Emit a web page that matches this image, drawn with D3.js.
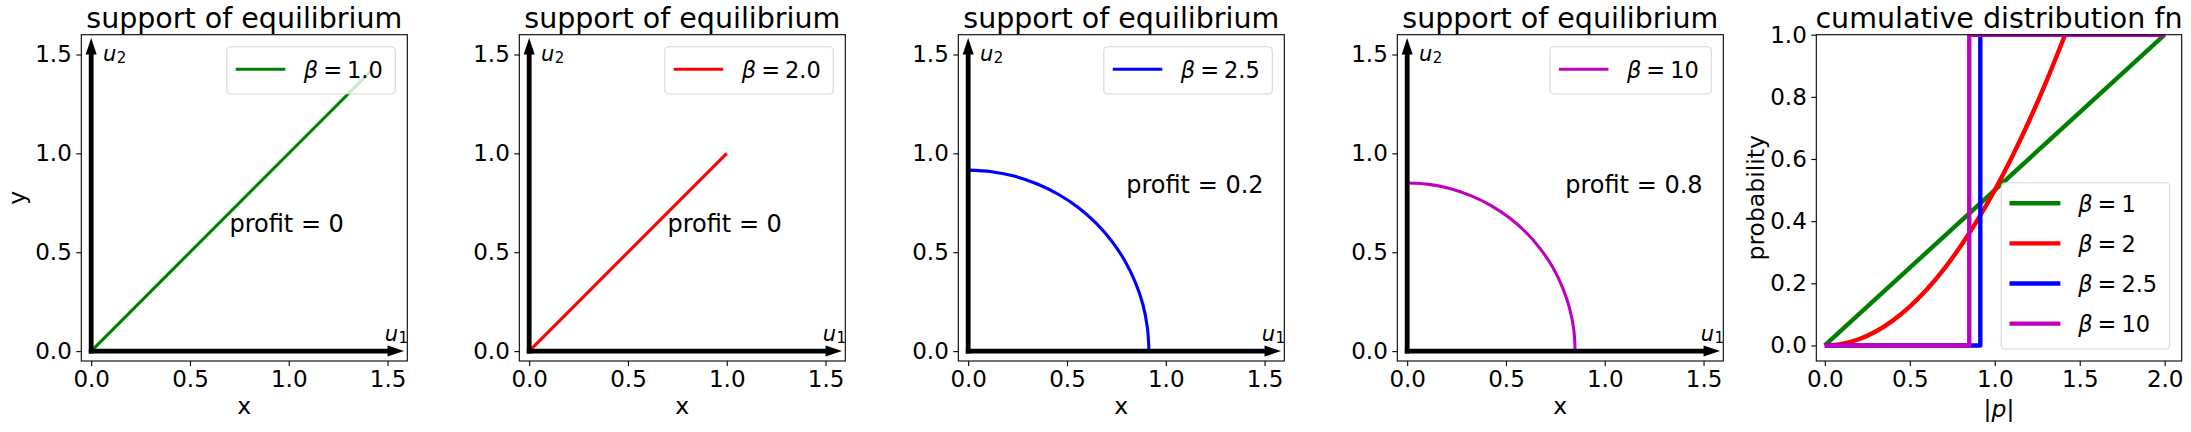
<!DOCTYPE html>
<html><head><meta charset="utf-8">
<script src="https://cdn.jsdelivr.net/npm/d3@7"></script>
<style>
body{margin:0;background:#fff;}
text{font-family:"DejaVu Sans",sans-serif;fill:#000;}
</style>
</head><body>
<svg id="chart" width="2191" height="432"></svg>
<script>
// ---------------- data ----------------
const supportTitle = "support of equilibrium";
const cdfTitle = "cumulative distribution fn";
const supportBetaLabels = ["1.0", "2.0", "2.5", "10"];
const cdfBetaLabels = ["1", "2", "2.5", "10"];
const seriesColors = ["#008000", "#ff0000", "#0000ff", "#bf00bf"];
const profitLabels = ["profit = 0", "profit = 0", "profit = 0.2", "profit = 0.8"];
const profitAnchors = [[0.7, 0.6], [0.7, 0.6], [0.8, 0.8], [0.8, 0.8]];

// support curves (u1, u2)
const supportBeta1 = [[0, 0], [1.414, 1.414]];
const supportBeta2 = [[0, 0], [1, 1]];
const supportBeta25 = [[0.915,0],[0.907,0.119],[0.884,0.237],[0.845,0.350],[0.792,0.458],[0.726,0.557],[0.647,0.647],[0.557,0.726],[0.458,0.792],[0.350,0.845],[0.237,0.884],[0.119,0.907],[0,0.915]];
const supportBeta10 = [[0.85,0],[0.843,0.111],[0.821,0.220],[0.785,0.325],[0.736,0.425],[0.674,0.517],[0.601,0.601],[0.517,0.674],[0.425,0.736],[0.325,0.785],[0.220,0.821],[0.111,0.843],[0,0.85]];
const supportSeries = [supportBeta1, supportBeta2, supportBeta25, supportBeta10];

// CDF curves (|p|, probability)
const cdfBeta1 = [[0, 0], [2, 1]];
const cdfBeta2 = [[0,0],[0.1,0.005],[0.2,0.02],[0.3,0.045],[0.4,0.08],[0.5,0.125],[0.6,0.18],[0.7,0.245],[0.8,0.32],[0.9,0.405],[1.0,0.5],[1.1,0.605],[1.2,0.72],[1.3,0.845],[1.414,1.0]];
const cdfBeta25 = [[0, 0], [0.915, 0], [0.915, 1], [2, 1]];
const cdfBeta10 = [[0, 0], [0.85, 0], [0.85, 1], [2, 1]];
const cdfSeries = [cdfBeta1, cdfBeta2, cdfBeta25, cdfBeta10];

const supportTicks = [0, 0.5, 1.0, 1.5];
const cdfXTicks = [0, 0.5, 1.0, 1.5, 2.0];
const cdfYTicks = [0, 0.2, 0.4, 0.6, 0.8, 1.0];
const supportDomain = [-0.05, 1.6];
const cdfXDomain = [-0.05, 2.1];
const cdfYDomain = [-0.05, 1.0];
const arrowLength = 1.5;

// ---------------- layout ----------------
const svg = d3.select("#chart");
const axTop = 34.7, axH = 326.3;
const panelLefts = [81.3, 519.3, 958.3, 1397.3, 1816.3];
const panelWidths = [326, 326, 326, 326, 365.4];
const tickFont = 23, legendFont = 22.5, labelFont = 23.5;
let clipId = 0;

function frame(i, xDom, yDom, xTicks, yTicks) {
  const L = panelLefts[i], W = panelWidths[i];
  const x = d3.scaleLinear().domain(xDom).range([L, L + W]);
  const y = d3.scaleLinear().domain(yDom).range([axTop + axH, axTop]);
  const g = svg.append("g");
  const id = "clip" + (clipId++);
  svg.append("defs").append("clipPath").attr("id", id)
    .append("rect").attr("x", L).attr("y", axTop).attr("width", W).attr("height", axH);
  const fmt = d3.format(".1f");
  const xa = g.append("g").attr("transform", `translate(0,${axTop + axH})`)
    .call(d3.axisBottom(x).tickValues(xTicks).tickFormat(fmt).tickSize(5).tickSizeOuter(0).tickPadding(4.5));
  const ya = g.append("g").attr("transform", `translate(${L},0)`)
    .call(d3.axisLeft(y).tickValues(yTicks).tickFormat(fmt).tickSize(5).tickSizeOuter(0).tickPadding(4.5));
  [xa, ya].forEach(a => {
    a.select(".domain").remove();
    a.selectAll("line").attr("stroke", "#000").attr("stroke-width", 1.1);
    a.selectAll("text").attr("font-size", tickFont).attr("font-family", "DejaVu Sans").attr("fill", "#000");
  });
  const plot = g.append("g").attr("clip-path", `url(#${id})`);
  return {x, y, g, plot, L, W};
}

function drawFrameRect(f) {
  f.g.append("rect").attr("x", f.L).attr("y", axTop).attr("width", f.W).attr("height", axH)
    .attr("fill", "none").attr("stroke", "#000").attr("stroke-width", 1.1);
}

function mathBeta(t, label) {
  t.append("tspan").attr("font-style", "italic").text("β");
  t.append("tspan").attr("dx", 5).text("=");
  t.append("tspan").attr("dx", 5).text(label);
}

function legend(f, labels, colors, lw) {
  const right = f.L + f.W - 12;
  const n = labels.length;
  const h = n === 1 ? 47.3 : 166.3;
  const top = n === 1 ? axTop + 12 : axTop + axH - 12 - h;
  const first = n === 1 ? 22.6 : 20.6;
  const lg = f.g.append("g");
  const box = lg.append("rect");
  const texts = labels.map((lab, k) => {
    const t = lg.append("text").attr("font-size", legendFont).attr("text-anchor", "end")
      .attr("x", right - 11.5).attr("y", top + first + 40.1 * k + 8.3);
    mathBeta(t, lab);
    return t;
  });
  const minLeft = d3.min(texts, t => t.node().getBBox().x);
  const boxLeft = minLeft - 77;
  texts.forEach(t => t.attr("text-anchor", "start").attr("x", boxLeft + 77));
  box.attr("x", boxLeft).attr("y", top).attr("width", right - boxLeft).attr("height", h)
    .attr("rx", 4).attr("fill", "#fff").attr("fill-opacity", 0.8)
    .attr("stroke", "#cccccc").attr("stroke-opacity", 0.8).attr("stroke-width", 1.1);
  labels.forEach((lab, k) => {
    const yy = top + first + 40.1 * k;
    lg.append("line").attr("x1", boxLeft + 10.5).attr("x2", boxLeft + 57).attr("y1", yy).attr("y2", yy)
      .attr("stroke", colors[k]).attr("stroke-width", lw).attr("stroke-linecap", "square");
  });
}

function arrows(f) {
  const x = f.x, y = f.y;
  const sh = 2.4, hw = 5.5, hl = 16.5;
  const x0 = x(0), y0 = y(0), xe = x(arrowLength), ye = y(arrowLength);
  f.g.append("path").attr("fill", "#000").attr("d",
    `M${x0 - sh},${y0 - sh}L${xe},${y0 - sh}L${xe},${y0 - hw}L${xe + hl},${y0}L${xe},${y0 + hw}L${xe},${y0 + sh}L${x0 - sh},${y0 + sh}Z`);
  f.g.append("path").attr("fill", "#000").attr("d",
    `M${x0 - sh},${y0 + sh}L${x0 - sh},${ye}L${x0 - hw},${ye}L${x0},${ye - hl}L${x0 + hw},${ye}L${x0 + sh},${ye}L${x0 + sh},${y0 + sh}Z`);
  const u2 = f.g.append("text").attr("x", x(0.06)).attr("y", y(1.465)).attr("font-size", 21);
  u2.append("tspan").attr("font-style", "italic").text("u");
  u2.append("tspan").attr("font-size", 15).attr("dy", 2).attr("dx", 0.5).text("2");
  const u1 = f.g.append("text").attr("x", x(1.486)).attr("y", y(0.05)).attr("font-size", 21);
  u1.append("tspan").attr("font-style", "italic").text("u");
  u1.append("tspan").attr("font-size", 15).attr("dy", 2).attr("dx", 0.5).text("1");
}

// ---------- support panels ----------
for (let i = 0; i < 4; i++) {
  const f = frame(i, supportDomain, supportDomain, supportTicks, supportTicks);
  const line = d3.line().x(d => f.x(d[0])).y(d => f.y(d[1]))
    .curve(supportSeries[i].length > 2 ? d3.curveCatmullRom : d3.curveLinear);
  f.plot.append("path").datum(supportSeries[i]).attr("d", line)
    .attr("fill", "none").attr("stroke", seriesColors[i]).attr("stroke-width", 3.1);
  arrows(f);
  f.g.append("text").attr("x", f.x(profitAnchors[i][0])).attr("y", f.y(profitAnchors[i][1]))
    .attr("font-size", 24).text(profitLabels[i]);
  drawFrameRect(f);
  legend(f, [supportBetaLabels[i]], [seriesColors[i]], 3.1);
  f.g.append("text").attr("x", f.L + f.W / 2).attr("y", 28).attr("text-anchor", "middle")
    .attr("font-size", 28.5).text(supportTitle);
  f.g.append("text").attr("x", f.L + f.W / 2).attr("y", 413.5).attr("text-anchor", "middle")
    .attr("font-size", labelFont).text("x");
  if (i === 0) {
    f.g.append("text").attr("transform", `translate(25,${axTop + axH / 2}) rotate(-90)`)
      .attr("text-anchor", "middle").attr("font-size", labelFont).text("y");
  }
}

// ---------- CDF panel ----------
{
  const f = frame(4, cdfXDomain, cdfYDomain, cdfXTicks, cdfYTicks);
  cdfSeries.forEach((s, k) => {
    const line = d3.line().x(d => f.x(d[0])).y(d => f.y(d[1]))
      .curve(k === 1 ? d3.curveCatmullRom : d3.curveLinear);
    f.plot.append("path").datum(s).attr("d", line)
      .attr("fill", "none").attr("stroke", seriesColors[k]).attr("stroke-width", 4.4)
      .attr("stroke-linejoin", "round");
  });
  drawFrameRect(f);
  legend(f, cdfBetaLabels, seriesColors, 4.4);
  f.g.append("text").attr("x", f.L + f.W / 2).attr("y", 28).attr("text-anchor", "middle")
    .attr("font-size", 28.5).text(cdfTitle);
  const xl = f.g.append("text").attr("x", f.L + f.W / 2).attr("y", 416.5).attr("text-anchor", "middle")
    .attr("font-size", labelFont);
  xl.append("tspan").text("|");
  xl.append("tspan").attr("font-style", "italic").text("p");
  xl.append("tspan").text("|");
  f.g.append("text").attr("transform", `translate(1763.5,${axTop + axH / 2}) rotate(-90)`)
    .attr("text-anchor", "middle").attr("font-size", labelFont).text("probability");
}
</script>
</body></html>
